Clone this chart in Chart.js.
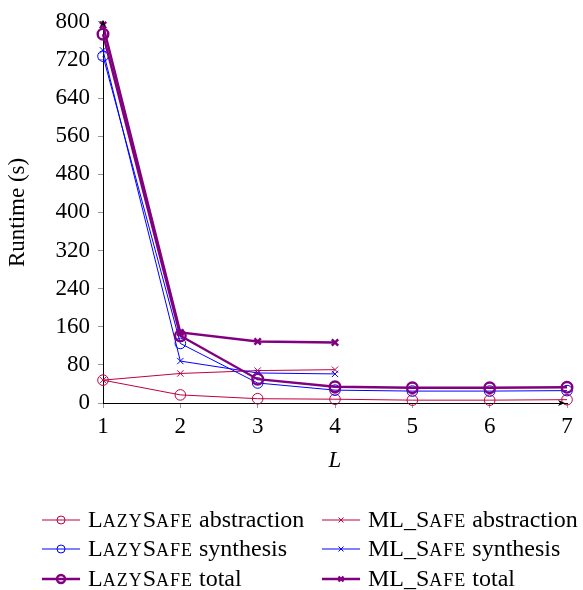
<!DOCTYPE html>
<html>
<head>
<meta charset="utf-8">
<script src="https://cdn.jsdelivr.net/npm/chart.js@4.4.1/dist/chart.umd.min.js"></script>
<style>
  html, body { margin: 0; padding: 0; background: #fff; }
  #wrap { width: 583px; height: 590px; }
</style>
</head>
<body>
<div id="wrap"><canvas id="chart"></canvas></div>
<script>
// x axis: level L
const levels = [1, 2, 3, 4, 5, 6, 7];
const yStep = 80;
const yMax = 800;

// runtime in seconds
const lazyAbstraction = [48, 17, 9, 8, 6, 6, 7];
const lazySynthesis = [728, 125, 42, 27, 25, 25, 26];
const lazyTotal = [774, 141, 50, 34, 32, 32, 33];
const mlAbstraction = [48, 62, 68, 70];
const mlSynthesis = [740, 88, 63, 61];
const mlTotal = [793, 148, 129, 127];

// legend text
const toolNames = ['LazySafe', 'ML_Safe'];
const partNames = ['abstraction', 'synthesis', 'total'];

const CRIMSON = '#bf0040';
const BLUE = '#0000ff';
const VIOLET = '#800080';
const SERIF = '"Liberation Serif", "DejaVu Serif", serif';
const FONT_SIZE = 23;

function series(tool, part, values, color, style, width, order) {
  return {
    label: toolNames[tool] + ' ' + partNames[part],
    tool: tool,
    part: part,
    data: values.map((v, i) => ({ x: levels[i], y: v })),
    borderColor: color,
    borderWidth: width,
    pointStyle: style,
    pointRadius: style === 'circle' ? 5.3 : 4.5,
    pointBorderColor: color,
    pointBorderWidth: width,
    pointBackgroundColor: 'rgba(0,0,0,0)',
    tension: 0,
    clip: false,
    order: order
  };
}

const datasets = [
  series(0, 0, lazyAbstraction, CRIMSON, 'circle', 1, 2),
  series(0, 1, lazySynthesis, BLUE, 'circle', 1, 1),
  series(0, 2, lazyTotal, VIOLET, 'circle', 2.4, 0),
  series(1, 0, mlAbstraction, CRIMSON, 'crossRot', 1, 2),
  series(1, 1, mlSynthesis, BLUE, 'crossRot', 1, 1),
  series(1, 2, mlTotal, VIOLET, 'crossRot', 2.4, 0)
];

// draws the tool name in small caps, then the rest of the label
function drawLabel(ctx, tool, rest, x, y) {
  const big = '24px ' + SERIF;
  const small = '18px ' + SERIF;
  ctx.textAlign = 'left';
  ctx.textBaseline = 'alphabetic';
  ctx.fillStyle = '#000';
  for (const ch of tool) {
    const lower = ch !== ch.toUpperCase();
    ctx.font = lower ? small : big;
    const c = lower ? ch.toUpperCase() : ch;
    ctx.fillText(c, x, y);
    x += ctx.measureText(c).width + (lower ? 1 : 0);
  }
  ctx.font = big;
  ctx.fillText(' ' + rest, x, y);
}

const pgfLegend = {
  id: 'pgfLegend',
  afterDraw(chart) {
    const ctx = chart.ctx;
    const cols = [42, 322];
    const rows = [520, 549, 579];
    ctx.save();
    chart.data.datasets.forEach(ds => {
      const x0 = cols[ds.tool];
      const y = rows[ds.part];
      ctx.strokeStyle = ds.borderColor;
      ctx.lineWidth = ds.borderWidth;
      ctx.beginPath();
      ctx.moveTo(x0, y);
      ctx.lineTo(x0 + 38, y);
      ctx.stroke();
      ctx.fillStyle = 'rgba(0,0,0,0)';
      Chart.helpers.drawPoint(ctx, {
        pointStyle: ds.pointStyle,
        radius: ds.pointStyle === 'circle' ? 4 : 3.5,
        rotation: 0,
        borderWidth: ds.borderWidth
      }, x0 + 19, y);
      drawLabel(ctx, toolNames[ds.tool], partNames[ds.part], x0 + 46, y + 7);
    });
    ctx.restore();
  }
};

// little arrow heads at the ends of the axis lines
const axisArrows = {
  id: 'axisArrows',
  afterDraw(chart) {
    const { ctx, chartArea } = chart;
    ctx.save();
    ctx.fillStyle = '#000';
    ctx.beginPath();
    ctx.moveTo(chartArea.left, chartArea.top - 2);
    ctx.lineTo(chartArea.left - 3, chartArea.top + 5);
    ctx.lineTo(chartArea.left, chartArea.top + 3);
    ctx.lineTo(chartArea.left + 3, chartArea.top + 5);
    ctx.closePath();
    ctx.fill();
    ctx.beginPath();
    ctx.moveTo(chartArea.right - 2, chartArea.bottom);
    ctx.lineTo(chartArea.right - 9, chartArea.bottom - 3);
    ctx.lineTo(chartArea.right - 7, chartArea.bottom);
    ctx.lineTo(chartArea.right - 9, chartArea.bottom + 3);
    ctx.closePath();
    ctx.fill();
    ctx.restore();
  }
};

new Chart(document.getElementById('chart'), {
  type: 'line',
  data: { datasets: datasets },
  plugins: [pgfLegend, axisArrows],
  options: {
    animation: false,
    responsive: true,
    maintainAspectRatio: false,
    layout: { padding: { top: 17, right: 16, bottom: 112, left: 0 } },
    plugins: { legend: { display: false }, tooltip: { enabled: false } },
    scales: {
      x: {
        type: 'linear',
        min: levels[0],
        max: levels[levels.length - 1],
        ticks: { stepSize: 1, color: '#000', padding: 5, font: { family: SERIF, size: FONT_SIZE } },
        grid: { drawOnChartArea: false, color: '#999', tickLength: 5 },
        border: { color: '#000', width: 1 },
        title: {
          display: true, text: 'L', color: '#000', padding: { top: 0, bottom: 3 },
          font: { family: SERIF, size: FONT_SIZE, style: 'italic' }
        },
        afterFit(scale) { scale.height = 75; }
      },
      y: {
        min: 0,
        max: yMax,
        ticks: { stepSize: yStep, color: '#000', padding: 8, font: { family: SERIF, size: FONT_SIZE } },
        grid: { drawOnChartArea: false, color: '#999', tickLength: 5 },
        border: { color: '#000', width: 1 },
        title: {
          display: true, text: 'Runtime (s)', color: '#000', padding: { top: 4, bottom: 0 },
          font: { family: SERIF, size: FONT_SIZE }
        },
        afterFit(scale) { scale.width = 103; }
      }
    }
  }
});
</script>
</body>
</html>
